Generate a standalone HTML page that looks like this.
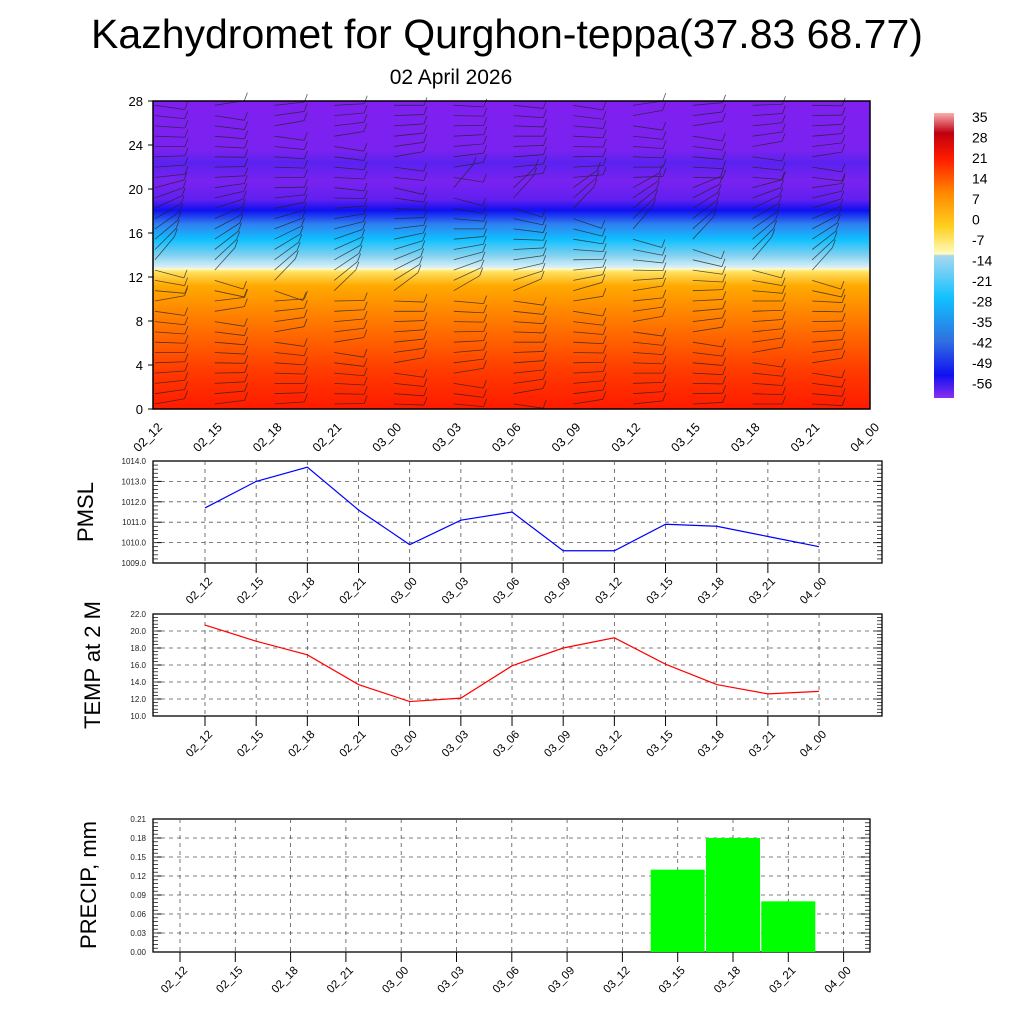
<!DOCTYPE html>
<html><head><meta charset="utf-8"><style>
body{margin:0;background:#fff;}
svg{display:block;font-family:"Liberation Sans",sans-serif;}
</style></head><body>
<svg id="s" width="1024" height="1024" viewBox="0 0 1024 1024">
<defs>
<linearGradient id="tg" x1="0" y1="1" x2="0" y2="0">
<stop offset="0" stop-color="#ff1a00"/>
<stop offset="0.12" stop-color="#ff3a00"/>
<stop offset="0.22" stop-color="#ff6000"/>
<stop offset="0.32" stop-color="#ff8800"/>
<stop offset="0.40" stop-color="#ffaa00"/>
<stop offset="0.445" stop-color="#ffe060"/>
<stop offset="0.455" stop-color="#fffbc0"/>
<stop offset="0.46" stop-color="#d8f0f8"/>
<stop offset="0.5" stop-color="#80d0f0"/>
<stop offset="0.55" stop-color="#10c0ff"/>
<stop offset="0.6" stop-color="#3080f0"/>
<stop offset="0.645" stop-color="#1010f0"/>
<stop offset="0.68" stop-color="#6020f0"/>
<stop offset="0.74" stop-color="#7a22f0"/>
<stop offset="0.8" stop-color="#5a22f0"/>
<stop offset="0.84" stop-color="#7a22f0"/>
<stop offset="1" stop-color="#8020f0"/>
</linearGradient>
<linearGradient id="cg" x1="0" y1="1" x2="0" y2="0">
<stop offset="0" stop-color="#8a2ff0"/>
<stop offset="0.08" stop-color="#1010f0"/>
<stop offset="0.2" stop-color="#3070e0"/>
<stop offset="0.35" stop-color="#10c0ff"/>
<stop offset="0.5" stop-color="#a8d8ee"/>
<stop offset="0.505" stop-color="#fffbc0"/>
<stop offset="0.6" stop-color="#ffd020"/>
<stop offset="0.72" stop-color="#ff8800"/>
<stop offset="0.84" stop-color="#ff1a00"/>
<stop offset="0.93" stop-color="#c00010"/>
<stop offset="1" stop-color="#f8b0b0"/>
</linearGradient>
</defs>
<text x="507" y="48" font-size="41" text-anchor="middle">Kazhydromet for Qurghon-teppa(37.83 68.77)</text>
<text x="451" y="84" font-size="21" text-anchor="middle">02 April 2026</text>
<rect x="153" y="101" width="717" height="308" fill="url(#tg)"/>
<g id="barbs" opacity="0.75"></g>
<rect x="153" y="101" width="717" height="308" fill="none" stroke="#000" stroke-width="1.5"/>
<rect x="934" y="113" width="20" height="285" fill="url(#cg)"/>
<g id="main"></g>
<text transform="translate(93,512) rotate(-90)" font-size="22" text-anchor="middle">PMSL</text>
<text transform="translate(100,665) rotate(-90)" font-size="22" text-anchor="middle">TEMP at 2 M</text>
<text transform="translate(96,885) rotate(-90)" font-size="22" text-anchor="middle">PRECIP, mm</text>
</svg>
<script>
const categories=["02_12","02_15","02_18","02_21","03_00","03_03","03_06","03_09","03_12","03_15","03_18","03_21","04_00"];
const pmslValues=[1011.7,1013.0,1013.7,1011.6,1009.9,1011.1,1011.5,1009.6,1009.6,1010.9,1010.8,1010.3,1009.8];
const tempValues=[20.7,18.8,17.2,13.7,11.7,12.1,15.9,18.0,19.2,16.1,13.7,12.6,12.9];
const precipValues=[0,0,0,0,0,0,0,0,0,0.13,0.18,0.08,0];
const profileYTicks=[0,4,8,12,16,20,24,28];
const colorbarLabels=["35","28","21","14","7","0","-7","-14","-21","-28","-35","-42","-49","-56"];
const pmslTicks=["1009.0","1010.0","1011.0","1012.0","1013.0","1014.0"];
const tempTicks=["10.0","12.0","14.0","16.0","18.0","20.0","22.0"];
const precipTicks=["0.00","0.03","0.06","0.09","0.12","0.15","0.18","0.21"];

const NS="http://www.w3.org/2000/svg";
const main=document.getElementById('main');
function el(t,a,p){const e=document.createElementNS(NS,t);for(const k in a)e.setAttribute(k,a[k]);(p||main).appendChild(e);return e;}

const pY=v=>409-v/28*308, pX=i=>153+i*59.75;
profileYTicks.forEach(v=>{
  const t=el('text',{x:143,y:pY(v)+5,'font-size':13,'text-anchor':'end'});t.textContent=v;
  
  
  el('line',{x1:148,x2:153,y1:pY(v),y2:pY(v),stroke:'#000'});
});
categories.forEach((c,i)=>{
  const x=pX(i);
  const t=el('text',{x:0,y:0,'font-size':12.5,'text-anchor':'end',transform:`translate(${x+10},${428}) rotate(-45)`});t.textContent=c;
  
  
});
const bg=document.getElementById('barbs');
for(let i=0;i<12;i++){
  for(let r=0;r<30;r++){
    const y=404-r*10.3, x=pX(i)+2;
    const ang=(r>10&&r<22)?-50+((i*7+r*5)%70):((i*3+r*2)%20)-10;
    const L=30, a=ang*Math.PI/180;
    const x2=x+L*Math.cos(a), y2=y+L*Math.sin(a);
    el('line',{x1:x,y1:y,x2:x2,y2:y2,stroke:'#222','stroke-width':0.8},bg);
    el('line',{x1:x2,y1:y2,x2:x2+3,y2:y2-8,stroke:'#222','stroke-width':0.8},bg);
  }
}
colorbarLabels.forEach((l,i)=>{
  const t=el('text',{x:972,y:122+i*20.5,'font-size':14});t.textContent=l;
  
  
});

function panel(name,top,bot,right,x0,dx,ticks,vmin,vmax){
  el('rect',{x:153,y:top,width:right-153,height:bot-top,fill:'none',stroke:'#000','stroke-width':1.3});
  const y=v=>bot-(v-vmin)/(vmax-vmin)*(bot-top);
  ticks.forEach((l,k)=>{
    const v=parseFloat(l), yy=y(v);
    const t=el('text',{x:146,y:yy+3,'font-size':8,'text-anchor':'end',fill:'#222'});t.textContent=l;
    
    
    el('line',{x1:153,x2:162,y1:yy,y2:yy,stroke:'#000'});
    el('line',{x1:right-9,x2:right,y1:yy,y2:yy,stroke:'#000'});
    if(k>0&&k<ticks.length-1)el('line',{x1:153,x2:right,y1:yy,y2:yy,stroke:'#555','stroke-dasharray':'4,4','stroke-width':0.8});
    if(k<ticks.length-1)for(let m=1;m<5;m++){const ym=yy-(bot-top)/(ticks.length-1)*m/5;
      el('line',{x1:153,x2:158,y1:ym,y2:ym,stroke:'#000','stroke-width':0.7});
      el('line',{x1:right-5,x2:right,y1:ym,y2:ym,stroke:'#000','stroke-width':0.7});}
  });
  categories.forEach((c,i)=>{
    const x=x0+i*dx;
    el('line',{x1:x,x2:x,y1:top,y2:bot,stroke:'#555','stroke-dasharray':'4,4','stroke-width':0.8});
    el('line',{x1:x,x2:x,y1:bot,y2:bot+10,stroke:'#000'});
    const t=el('text',{x:0,y:0,'font-size':11.5,'text-anchor':'end',transform:`translate(${x+8},${bot+19}) rotate(-45)`});t.textContent=c;
    
    
  });
  return y;
}
const yp=panel('pmsl',461,563,882,205,51.17,pmslTicks,1009,1014);
const pl=el('polyline',{points:pmslValues.map((v,i)=>`${205+i*51.17},${yp(v)}`).join(' '),fill:'none',stroke:'#00f','stroke-width':1.2});


const yt=panel('temp',614,716,882,205,51.17,tempTicks,10,22);
const tl=el('polyline',{points:tempValues.map((v,i)=>`${205+i*51.17},${yt(v)}`).join(' '),fill:'none',stroke:'#f00','stroke-width':1.2});


const yr=panel('precip',819,952,870,180,55.3,precipTicks,0,0.21);
precipValues.forEach((v,i)=>{
  if(v<=0)return;
  const x=180+i*55.3;
  const b=el('rect',{x:x-27,y:yr(v),width:54,height:952-yr(v),fill:'#00ff00'});
  
  
});
</script>
</body></html>
